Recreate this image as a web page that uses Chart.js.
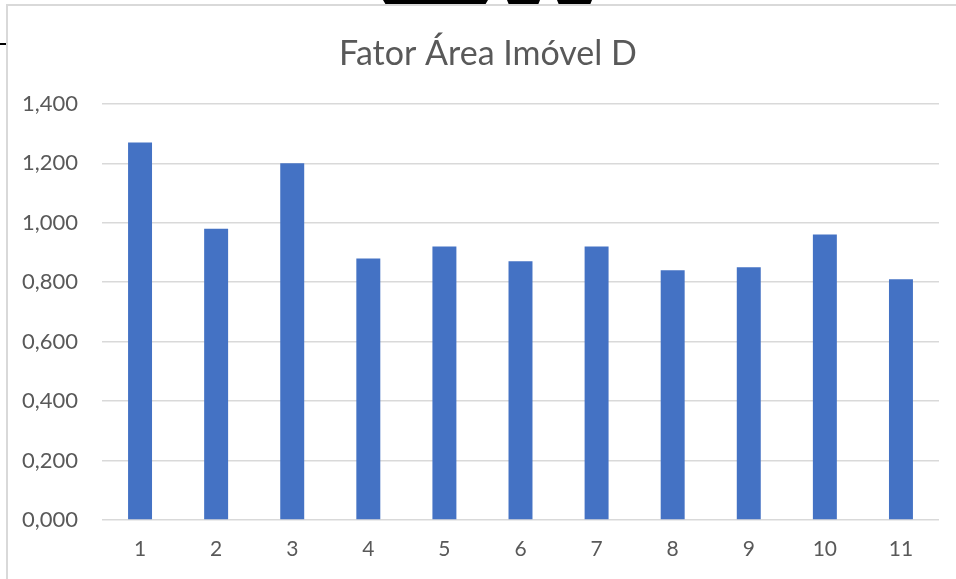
<!DOCTYPE html>
<html><head><meta charset="utf-8">
<script src="https://cdn.jsdelivr.net/npm/chart.js@4"></script>
<style>html,body{margin:0;padding:0;background:#fff;}#wrap{width:956px;height:579px;position:relative;}</style>
</head><body><div id="wrap"><canvas id="c" width="956" height="579"></canvas></div>
<script>
const categories = ['1','2','3','4','5','6','7','8','9','10','11'];
const fatorArea = [1.27, 0.98, 1.20, 0.88, 0.92, 0.87, 0.92, 0.84, 0.85, 0.96, 0.81];
const yTicks = [0, 0.2, 0.4, 0.6, 0.8, 1.0, 1.2, 1.4];
const chartTitle = 'Fator Área Imóvel D';

const decor = {
  id: 'decor',
  afterLayout(chart) {
    const t = chart.titleBlock;
    if (t) { t.left += 18.5; t.right += 18.5; }
  },
  beforeDraw(chart) {
    const ctx = chart.ctx;
    ctx.save();
    ctx.fillStyle = '#fff';
    ctx.fillRect(0, 0, chart.width, chart.height);
    ctx.fillStyle = '#000';
    ctx.fillRect(0, 43, 6, 2);
    const shapes = [[383,488,386,485],[507,540,509,538],[557,592,559,590]];
    shapes.forEach(s => {
      ctx.beginPath();
      ctx.moveTo(s[0], 0); ctx.lineTo(s[1], 0); ctx.lineTo(s[3], 5); ctx.lineTo(s[2], 5);
      ctx.closePath(); ctx.fill();
    });
    ctx.strokeStyle = '#d9d9d9';
    ctx.lineWidth = 2;
    ctx.beginPath();
    ctx.moveTo(7, 579); ctx.lineTo(7, 5); ctx.lineTo(956, 5);
    ctx.stroke();
    ctx.restore();
  }
};

new Chart(document.getElementById('c'), {
  type: 'bar',
  data: {
    labels: categories,
    datasets: [{
      data: fatorArea,
      backgroundColor: '#4472C4',
      borderWidth: 0,
      categoryPercentage: 1,
      barPercentage: 0.315
    }]
  },
  options: {
    responsive: false,
    animation: false,
    devicePixelRatio: 1,
    layout: { padding: { left: 0, right: 17, top: 0, bottom: 0 } },
    plugins: {
      legend: { display: false },
      tooltip: { enabled: false },
      title: {
        display: true,
        text: chartTitle,
        color: '#595959',
        font: { family: 'Lato', size: 34, weight: 'normal', lineHeight: 1.2 },
        padding: { top: 34, bottom: 29 }
      }
    },
    scales: {
      x: {
        grid: { display: false, drawTicks: false },
        border: { display: false },
        ticks: { color: '#595959', font: { family: 'Lato', size: 21 }, padding: 17 },
        afterFit(s) { s.height = 59; }
      },
      y: {
        min: 0, max: 1.4,
        afterBuildTicks(s) { s.ticks = yTicks.map(v => ({ value: v })); },
        grid: { color: '#d9d9d9', lineWidth: 1.5, drawTicks: false },
        border: { display: false },
        ticks: {
          color: '#595959',
          font: { family: 'Lato', size: 22 },
          padding: 24,
          callback: v => v.toFixed(3).replace('.', ',')
        },
        afterFit(s) { s.width = 102; }
      }
    }
  },
  plugins: [decor]
});
</script></body></html>
